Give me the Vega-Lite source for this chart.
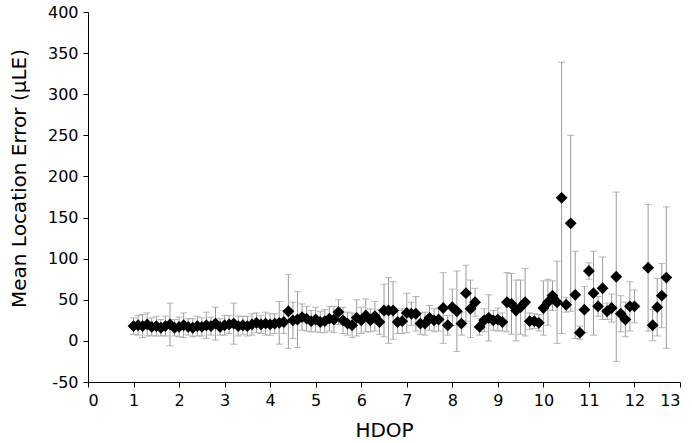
{
  "$schema": "https://vega.github.io/schema/vega-lite/v6.json",
  "width": 592,
  "height": 370,
  "autosize": "none",
  "padding": {"left": 88, "top": 12, "right": 12, "bottom": 61},
  "background": "white",
  "config": {
    "view": {"stroke": null},
    "font": "DejaVu Sans",
    "axis": {"grid": false, "domainColor": "#000", "tickColor": "#000", "labelColor": "#000", "titleColor": "#000", "labelFont": "DejaVu Sans", "titleFont": "DejaVu Sans", "labelFontSize": 16, "titleFontSize": 20, "titleFontWeight": "normal", "tickSize": 5, "domainWidth": 1, "tickWidth": 1}
  },
  "data": {"values": [
    {"h":1.0,"m":18,"s":10},{"h":1.1,"m":19,"s":12},{"h":1.2,"m":18,"s":14},{"h":1.3,"m":20,"s":14},{"h":1.4,"m":17,"s":11},
    {"h":1.5,"m":18,"s":12},{"h":1.6,"m":16,"s":10},{"h":1.7,"m":18,"s":12},{"h":1.8,"m":20,"s":26},{"h":1.9,"m":16,"s":10},
    {"h":2.0,"m":17,"s":12},{"h":2.1,"m":19,"s":15},{"h":2.2,"m":17,"s":10},{"h":2.3,"m":16,"s":11},{"h":2.4,"m":18,"s":12},
    {"h":2.5,"m":17,"s":11},{"h":2.6,"m":19,"s":16},{"h":2.7,"m":18,"s":11},{"h":2.8,"m":21,"s":20},{"h":2.9,"m":17,"s":10},
    {"h":3.0,"m":19,"s":12},{"h":3.1,"m":20,"s":11},{"h":3.2,"m":21,"s":25},{"h":3.3,"m":18,"s":12},{"h":3.4,"m":19,"s":11},
    {"h":3.5,"m":18,"s":12},{"h":3.6,"m":20,"s":13},{"h":3.7,"m":22,"s":12},{"h":3.8,"m":20,"s":11},{"h":3.9,"m":21,"s":14},
    {"h":4.0,"m":20,"s":13},{"h":4.1,"m":21,"s":12},{"h":4.2,"m":22,"s":26},{"h":4.3,"m":23,"s":14},{"h":4.4,"m":36,"s":45},
    {"h":4.5,"m":25,"s":22},{"h":4.6,"m":26,"s":34},{"h":4.7,"m":29,"s":16},{"h":4.8,"m":27,"s":15},{"h":4.9,"m":24,"s":13},
    {"h":5.0,"m":26,"s":15},{"h":5.1,"m":23,"s":13},{"h":5.2,"m":24,"s":14},{"h":5.3,"m":27,"s":15},{"h":5.4,"m":26,"s":16},
    {"h":5.5,"m":35,"s":15},{"h":5.6,"m":25,"s":16},{"h":5.7,"m":21,"s":14},{"h":5.8,"m":19,"s":15},{"h":5.9,"m":28,"s":22},
    {"h":6.0,"m":25,"s":16},{"h":6.1,"m":31,"s":20},{"h":6.2,"m":25,"s":14},{"h":6.3,"m":30,"s":18},{"h":6.4,"m":23,"s":15},
    {"h":6.5,"m":37,"s":32},{"h":6.6,"m":37,"s":40},{"h":6.7,"m":37,"s":35},{"h":6.8,"m":23,"s":14},{"h":6.9,"m":24,"s":15},
    {"h":7.0,"m":34,"s":24},{"h":7.1,"m":33,"s":14},{"h":7.2,"m":33,"s":21},{"h":7.3,"m":21,"s":13},{"h":7.4,"m":21,"s":14},
    {"h":7.5,"m":28,"s":15},{"h":7.6,"m":25,"s":14},{"h":7.7,"m":26,"s":14},{"h":7.8,"m":40,"s":43},{"h":7.9,"m":19,"s":12},
    {"h":8.0,"m":41,"s":22},{"h":8.1,"m":36,"s":49},{"h":8.2,"m":21,"s":14},{"h":8.3,"m":58,"s":34},{"h":8.4,"m":39,"s":35},
    {"h":8.5,"m":47,"s":17},{"h":8.6,"m":17,"s":10},{"h":8.7,"m":25,"s":14},{"h":8.8,"m":28,"s":28},{"h":8.9,"m":25,"s":12},
    {"h":9.0,"m":26,"s":14},{"h":9.1,"m":23,"s":11},{"h":9.2,"m":47,"s":36},{"h":9.3,"m":45,"s":37},{"h":9.4,"m":37,"s":37},
    {"h":9.5,"m":41,"s":33},{"h":9.6,"m":47,"s":41},{"h":9.7,"m":24,"s":10},{"h":9.8,"m":24,"s":9},{"h":9.9,"m":22,"s":10},
    {"h":10.0,"m":40,"s":33},{"h":10.1,"m":47,"s":28},{"h":10.2,"m":55,"s":18},{"h":10.3,"m":47,"s":50},{"h":10.4,"m":174,"s":165},
    {"h":10.5,"m":44,"s":9},{"h":10.6,"m":143,"s":107},{"h":10.7,"m":56,"s":53},{"h":10.8,"m":10,"s":8},{"h":10.9,"m":38,"s":28},
    {"h":11.0,"m":85,"s":10},{"h":11.1,"m":58,"s":51},{"h":11.2,"m":42,"s":12},{"h":11.3,"m":64,"s":38},{"h":11.4,"m":36,"s":10},
    {"h":11.5,"m":40,"s":17},{"h":11.6,"m":78,"s":103},{"h":11.7,"m":33,"s":22},{"h":11.8,"m":26,"s":21},{"h":11.9,"m":42,"s":30},
    {"h":12.0,"m":42,"s":20},{"h":12.3,"m":89,"s":77},{"h":12.4,"m":19,"s":19},{"h":12.5,"m":41,"s":35},{"h":12.6,"m":55,"s":39},
    {"h":12.7,"m":77,"s":86}
  ]},
  "layer": [
    {
      "mark": {"type": "errorbar", "ticks": true, "color": "#9a9a9a", "thickness": 1, "size": 7},
      "encoding": {
        "x": {"field": "h", "type": "quantitative", "scale": {"domain": [0, 13], "nice": false, "zero": false}, "axis": {"values": [0,1,2,3,4,5,6,7,8,9,10,11,12,13], "title": "HDOP", "titlePadding": 12, "labelPadding": 5}, "title": "HDOP"},
        "y": {"field": "m", "type": "quantitative", "scale": {"domain": [-50, 400], "nice": false, "zero": false}, "axis": {"values": [-50,0,50,100,150,200,250,300,350,400], "labelExpr": "'' + datum.value", "title": "Mean Location Error (µLE)", "titlePadding": 18, "titleY": 166, "labelPadding": 5}, "title": "Mean Location Error (µLE)"},
        "yError": {"field": "s"}
      }
    },
    {
      "mark": {"type": "point", "shape": "diamond", "filled": true, "color": "#000", "opacity": 1, "size": 140},
      "encoding": {
        "x": {"field": "h", "type": "quantitative"},
        "y": {"field": "m", "type": "quantitative"}
      }
    }
  ]
}
